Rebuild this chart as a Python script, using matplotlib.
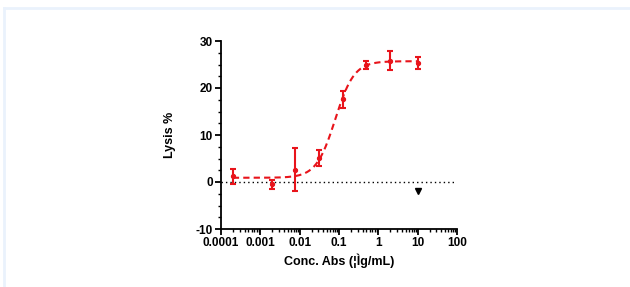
import numpy as np
import matplotlib
matplotlib.use("Agg")
import matplotlib.pyplot as plt
from matplotlib.ticker import LogLocator, FixedLocator, MultipleLocator, NullFormatter
from matplotlib.lines import Line2D

plt.rcParams['font.family'] = ['Liberation Sans', 'DejaVu Sans']
plt.rcParams['axes.unicode_minus'] = False

# Data
conc = [0.0002, 0.00195, 0.0078, 0.031, 0.125, 0.5, 2.0, 10.0]
lysis = [1.2, -0.5, 2.6, 5.1, 17.6, 24.9, 25.8, 25.4]
lysis_err = [1.6, 1.0, 4.6, 1.7, 1.8, 0.8, 2.0, 1.3]
ctrl_conc = [10.0]
ctrl_lysis = [-2.0]

# 4PL fit parameters (curve)
fit_bottom = 0.9
fit_top = 25.7
fit_ec50 = 0.08
fit_hill = 1.8

x_ticks = [0.0001, 0.001, 0.01, 0.1, 1, 10, 100]
x_ticklabels = ['0.0001', '0.001', '0.01', '0.1', '1', '10', '100']
y_ticks = [-10, 0, 10, 20, 30]
y_ticklabels = ['-10', '0', '10', '20', '30']

red = '#E8141B'

fig = plt.figure(figsize=(6.3, 2.87), dpi=100)
ax = fig.add_axes([221/630, 1-229/287, (457-221)/630, (229-41)/287])

# frame lines on figure
fig.add_artist(Line2D([3.5/630, 1], [1-7.5/287, 1-7.5/287], color='#EAF2FC', lw=2.0, transform=fig.transFigure))
fig.add_artist(Line2D([3.5/630, 3.5/630], [0, 1-7.5/287], color='#EAF2FC', lw=2.0, transform=fig.transFigure))

ax.set_xscale('log')
ax.set_xlim(0.0001, 100)
ax.set_ylim(-10, 30)

# zero dotted line
ax.axhline(0, color='black', lw=1.0, ls=(0, (1, 2.2)), zorder=1)

# curve
xc = np.logspace(np.log10(conc[0]), np.log10(conc[-1]), 300)
yc = fit_bottom + (fit_top - fit_bottom) / (1 + (fit_ec50 / xc) ** fit_hill)
ax.plot(xc, yc, color=red, lw=1.5, ls=(0, (3, 2)), zorder=2)

ax.errorbar(conc, lysis, yerr=lysis_err, fmt='o', color=red, ms=2.8,
            elinewidth=1.5, capsize=2.5, capthick=1.5, zorder=3)

ax.plot(ctrl_conc, ctrl_lysis, marker='v', color='black', ms=5, ls='none', zorder=3)

for s in ['top', 'right']:
    ax.spines[s].set_visible(False)
for s in ['left', 'bottom']:
    ax.spines[s].set_linewidth(1.3)

ax.xaxis.set_major_locator(FixedLocator(x_ticks))
ax.set_xticklabels(x_ticklabels)
ax.xaxis.set_minor_locator(LogLocator(base=10, subs=np.arange(2, 10), numticks=20))
ax.xaxis.set_minor_formatter(NullFormatter())
ax.yaxis.set_major_locator(FixedLocator(y_ticks))
ax.set_yticklabels(y_ticklabels)
ax.yaxis.set_minor_locator(MultipleLocator(2.5))

ax.tick_params(which='major', direction='out', length=4, width=1.3, labelsize=8.5, pad=2)
ax.tick_params(which='minor', direction='out', length=2.2, width=1.0)
for lbl in ax.get_xticklabels() + ax.get_yticklabels():
    lbl.set_fontweight('bold')

ax.set_xlabel('Conc. Abs (¦Ìg/mL)', fontsize=9, fontweight='bold', labelpad=3)
ax.set_ylabel('Lysis %', fontsize=9, fontweight='bold', labelpad=14)

fig.savefig('out.png', dpi=100)
